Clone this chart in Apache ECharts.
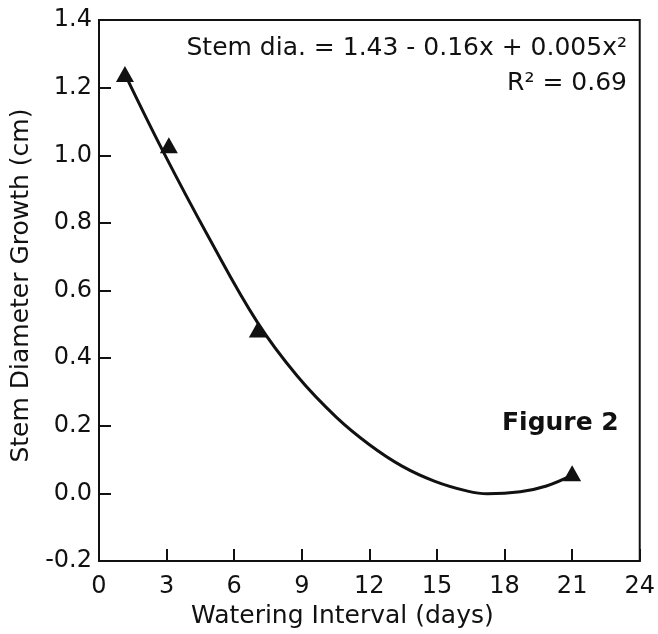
<!DOCTYPE html>
<html>
<head>
<meta charset="utf-8">
<script src="https://cdn.jsdelivr.net/npm/echarts@6/dist/echarts.min.js"></script>
<style>
  html, body { margin: 0; padding: 0; background: #fff; }
  #chart { width: 658px; height: 634px; }
</style>
</head>
<body>
<div id="chart"></div>
<script>
// measured points (triangles)
var pointX = [1.15, 3.1, 7.05, 21];
var pointY = [1.24, 1.03, 0.485, 0.06];

// fitted curve
var curveX = [1.15, 2.81, 4.85, 7.04, 8.79, 10.54, 11.99, 13.45, 14.91, 16.36, 17.24, 18.7, 19.86, 21.0];
var curveY = [1.24, 1.016, 0.76, 0.505, 0.348, 0.225, 0.145, 0.081, 0.036, 0.007, -0.001, 0.005, 0.022, 0.054];

var xTicks = [0, 3, 6, 9, 12, 15, 18, 21, 24];
var yTicks = [-0.2, 0.0, 0.2, 0.4, 0.6, 0.8, 1.0, 1.2, 1.4];

var eqLine1 = 'Stem dia. = 1.43 - 0.16x + 0.005x\u00b2';
var eqLine2 = 'R\u00b2 = 0.69';
var figLabel = 'Figure 2';

var ink = '#111';
var font = 'DejaVu Sans';

var pts = pointX.map(function (x, i) { return [x, pointY[i]]; });
var curve = curveX.map(function (x, i) { return [x, curveY[i]]; });

var chart = echarts.init(document.getElementById('chart'));
chart.setOption({
  animation: false,
  backgroundColor: '#fff',
  grid: {
    left: 99, right: 10, top: 20, bottom: 71,
    show: true, borderColor: ink, borderWidth: 2, backgroundColor: 'transparent'
  },
  xAxis: {
    type: 'value',
    min: xTicks[0], max: xTicks[xTicks.length - 1], interval: 3,
    name: 'Watering Interval (days)',
    nameLocation: 'middle', nameGap: 42,
    nameTextStyle: { fontFamily: font, fontSize: 25, color: ink, padding: [0, 54, 0, 0] },
    axisLine: { show: true, onZero: false, lineStyle: { color: ink, width: 2 } },
    axisTick: { show: true, inside: true, length: 12, lineStyle: { color: ink, width: 2 } },
    axisLabel: { fontFamily: font, fontSize: 24, color: ink, margin: 14 },
    splitLine: { show: false }
  },
  yAxis: {
    type: 'value',
    min: yTicks[0], max: yTicks[yTicks.length - 1], interval: 0.2,
    name: 'Stem Diameter Growth (cm)',
    nameLocation: 'middle', nameGap: 62,
    nameTextStyle: { fontFamily: font, fontSize: 25, color: ink, padding: [0, 0, 0, 10] },
    axisLine: { show: true, onZero: false, lineStyle: { color: ink, width: 2 } },
    axisTick: { show: true, inside: true, length: 12, lineStyle: { color: ink, width: 2 } },
    axisLabel: {
      fontFamily: font, fontSize: 24, color: ink, margin: 7,
      formatter: function (v) { return v.toFixed(1); }
    },
    splitLine: { show: false }
  },
  series: [
    {
      type: 'line',
      data: curve,
      smooth: 0.4,
      showSymbol: false,
      lineStyle: { color: ink, width: 3 },
      z: 2
    },
    {
      type: 'scatter',
      data: pts,
      symbol: 'triangle',
      symbolSize: [18, 16],
      itemStyle: { color: ink, opacity: 1 },
      z: 3
    }
  ],
  graphic: [
    {
      type: 'text', right: 31, top: 36,
      style: { text: eqLine1, fontFamily: font, fontSize: 25, fill: ink, textAlign: 'right' }
    },
    {
      type: 'text', right: 31, top: 71,
      style: { text: eqLine2, fontFamily: font, fontSize: 25, fill: ink, textAlign: 'right' }
    },
    {
      type: 'text', left: 502, top: 411,
      style: { text: figLabel, fontFamily: font, fontSize: 25, fontWeight: 'bold', fill: ink }
    }
  ]
});
</script>
</body>
</html>
